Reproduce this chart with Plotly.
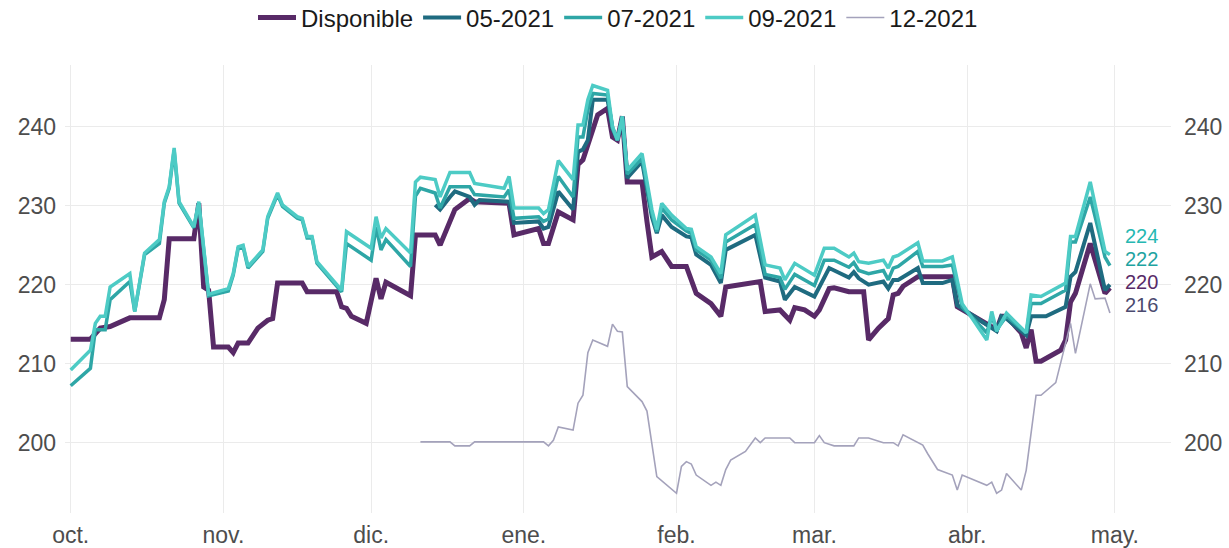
import pandas as pd
import plotly.graph_objects as go

BASE = pd.Timestamp("2020-10-01")  # day 0 of the day-offset lists

series_names = ["Disponible", "05-2021", "07-2021", "09-2021", "12-2021"]

disp_day = [0, 4, 6, 8, 12, 18, 19, 20, 25, 26, 27, 28, 29, 32, 33, 34, 36, 38, 40, 41,
            42, 47, 48, 54, 55, 56, 57, 60, 62, 63, 64, 69, 70, 74, 75, 77, 78, 81, 82, 89,
            90, 95, 96, 97, 99, 102, 103, 104, 107, 109, 110, 111, 112, 113, 116, 117, 118, 120, 122, 125,
            127, 130, 132, 133, 140, 141, 144, 146, 147, 149, 151, 152, 154, 155, 158, 161, 162, 164, 166, 167,
            168, 169, 172, 177, 179, 180, 186, 188, 189, 190, 193, 194, 195, 196, 197, 201, 202, 203, 204, 207,
            210, 211]
disp_val = [213.1, 213.1, 214.5, 214.7, 215.8, 215.8, 218.1, 225.8, 225.8, 230.3, 219.7, 219.3, 212.1, 212.1, 211.4, 212.6, 212.6, 214.5, 215.5, 215.7,
            220.2, 220.2, 219.1, 219.1, 217.2, 217.0, 216.0, 215.1, 220.8, 218.2, 220.3, 218.6, 226.3, 226.3, 225.0, 227.8, 229.5, 230.9, 230.5, 230.3,
            226.3, 227.1, 225.2, 225.2, 229.2, 228.2, 235.2, 235.8, 241.5, 242.3, 238.7, 238.3, 241.3, 233.0, 233.0, 228.0, 223.5, 224.2, 222.3, 222.3,
            218.9, 217.6, 216.0, 219.7, 220.4, 216.6, 216.8, 215.5, 217.1, 216.8, 216.0, 216.8, 219.5, 219.6, 219.1, 219.1, 213.0, 214.5, 215.7, 218.7,
            218.9, 219.8, 221.0, 221.0, 221.0, 217.2, 215.1, 214.3, 216.0, 216.0, 213.9, 212.0, 214.3, 210.3, 210.3, 211.7, 213.0, 217.8, 218.9, 225.2,
            218.9, 219.6]

m05_day = [74, 75, 77, 78, 81, 82, 83, 89, 90, 95, 96, 97, 99, 102, 103, 104, 105, 106, 109, 110,
           111, 112, 113, 116, 118, 119, 120, 122, 125, 126, 127, 130, 132, 133, 139, 141, 144, 145, 147, 151,
           154, 158, 159, 160, 162, 165, 166, 167, 168, 172, 173, 177, 179, 180, 186, 188, 189, 190, 194, 195,
           198, 202, 203, 204, 207, 210, 211]
m05_val = [230.1, 229.5, 231.1, 231.8, 231.1, 230.1, 230.7, 230.5, 227.8, 228.0, 227.1, 227.3, 231.8, 229.5, 236.8, 237.1, 238.3, 243.4, 243.4, 239.8,
           238.3, 241.2, 233.5, 235.6, 228.6, 226.5, 228.8, 227.3, 226.1, 226.0, 223.8, 222.5, 220.2, 224.4, 226.3, 220.9, 220.4, 218.1, 219.7, 218.5,
           222.1, 220.9, 221.6, 220.8, 220.0, 220.4, 219.5, 220.6, 220.6, 222.1, 220.2, 220.2, 220.6, 217.4, 214.9, 214.1, 216.0, 215.7, 213.6, 216.0,
           216.0, 217.2, 221.0, 221.6, 227.8, 219.3, 220.0]

m0709_day = [0, 4, 5, 6, 7, 8, 12, 13, 15, 18, 19, 20, 21, 22, 25, 26, 28, 32, 33, 34,
             35, 36, 39, 40, 42, 43, 46, 47, 48, 49, 50, 55, 56, 61, 62, 63, 64, 69, 70, 71,
             74, 75, 77, 81, 82, 88, 89, 90, 95, 96, 97, 99, 102, 103, 104, 105, 106, 109, 110, 111,
             112, 113, 116, 118, 119, 120, 122, 125, 126, 127, 130, 132, 133, 139, 141, 144, 145, 147, 151, 153,
             155, 158, 159, 160, 162, 165, 166, 167, 168, 172, 173, 177, 179, 181, 186, 187, 188, 190, 194, 195,
             197, 202, 203, 204, 207, 210, 211]
m07_val = [207.2, 209.4, 214.3, 214.3, 214.3, 218.1, 220.4, 216.6, 223.8, 225.2, 230.3, 232.2, 237.0, 230.3, 227.2, 230.3, 218.6, 219.2, 221.2, 224.6,
           224.8, 222.1, 224.2, 228.4, 231.4, 229.9, 228.4, 228.2, 225.9, 225.9, 222.7, 219.1, 225.2, 223.1, 227.3, 224.4, 225.7, 222.3, 231.2, 232.2,
           231.6, 229.7, 232.4, 232.4, 231.4, 231.1, 232.0, 228.4, 228.6, 228.0, 228.3, 233.7, 231.1, 238.7, 238.7, 242.1, 244.2, 244.0, 239.8, 238.3,
           241.3, 234.0, 236.0, 229.0, 226.7, 229.7, 228.2, 226.8, 226.5, 224.4, 223.1, 220.8, 225.4, 227.6, 221.3, 220.9, 219.4, 221.3, 219.9, 223.1,
           223.1, 222.2, 222.8, 221.8, 221.4, 221.8, 220.6, 222.1, 222.3, 224.2, 222.3, 222.3, 222.5, 217.2, 213.9, 216.0, 214.3, 216.0, 213.9, 217.6,
           217.6, 219.3, 225.4, 225.4, 231.1, 223.5, 222.4]
m09_val = [209.2, 211.7, 215.1, 216.0, 216.0, 219.7, 221.4, 216.6, 224.0, 225.7, 230.5, 232.4, 237.3, 230.5, 227.3, 230.5, 218.8, 219.5, 221.4, 224.8,
           225.0, 222.3, 224.4, 228.6, 231.6, 230.1, 228.6, 228.4, 226.1, 226.1, 222.9, 219.3, 226.7, 224.6, 228.6, 225.9, 227.1, 224.0, 233.0, 233.6,
           233.3, 231.1, 234.2, 234.2, 232.8, 232.2, 233.7, 229.7, 229.7, 229.0, 229.5, 235.7, 233.3, 240.2, 240.2, 243.4, 245.2, 244.6, 240.0, 238.3,
           241.3, 234.5, 236.6, 229.5, 227.0, 230.3, 228.8, 227.1, 227.0, 224.8, 223.5, 221.4, 226.3, 228.8, 222.5, 222.1, 220.6, 222.7, 221.2, 224.6,
           224.6, 223.5, 224.0, 222.9, 222.7, 223.1, 222.1, 223.5, 223.7, 225.3, 223.0, 223.0, 223.5, 217.6, 213.0, 216.6, 214.1, 216.4, 213.9, 218.7,
           218.5, 220.2, 226.1, 226.1, 233.0, 224.2, 223.8]

m12_day = [71, 77, 78, 81, 82, 96, 97, 98, 99, 102, 103, 104, 105, 106, 109, 110, 111, 112, 113, 116,
           117, 119, 123, 124, 125, 126, 127, 130, 131, 132, 133, 134, 137, 139, 140, 141, 146, 147, 151, 152,
           153, 155, 159, 160, 162, 165, 167, 168, 169, 173, 174, 176, 179, 180, 181, 186, 187, 188, 189, 190,
           193, 194, 196, 197, 200, 203, 204, 207, 208, 210, 211]
m12_val = [200.1, 200.1, 199.6, 199.6, 200.1, 200.1, 199.6, 200.3, 202.0, 201.6, 205.0, 206.0, 211.4, 213.0, 212.2, 215.0, 214.1, 214.0, 207.1, 205.2,
           204.0, 195.7, 193.6, 197.0, 197.6, 197.3, 195.9, 194.6, 195.0, 194.6, 196.6, 197.8, 198.9, 200.6, 200.0, 200.6, 200.6, 200.0, 200.0, 200.9,
           200.0, 199.6, 199.6, 200.6, 200.6, 200.0, 200.0, 199.6, 201.0, 199.7, 198.6, 196.6, 195.9, 194.0, 195.9, 194.6, 195.0, 193.6, 194.0, 196.1,
           194.0, 196.5, 206.0, 206.0, 207.6, 215.1, 211.3, 220.1, 218.2, 218.3, 216.4]

month_ticks = ["2020-10-01", "2020-11-01", "2020-12-01", "2021-01-01",
               "2021-02-01", "2021-03-01", "2021-04-01", "2021-05-01"]
month_labels = ["oct.", "nov.", "dic.", "ene.", "feb.", "mar.", "abr.", "may."]
y_ticks = [200, 210, 220, 230, 240]

# end labels shown for these series
labelled = ["09-2021", "07-2021", "Disponible", "12-2021"]


def to_dates(days):
    return [BASE + pd.Timedelta(days=d) for d in days]


data = {
    "Disponible": (disp_day, disp_val),
    "05-2021": (m05_day, m05_val),
    "07-2021": (m0709_day, m07_val),
    "09-2021": (m0709_day, m09_val),
    "12-2021": (m12_day, m12_val),
}
line_color = {
    "Disponible": "#582a67",
    "05-2021": "#1f6b80",
    "07-2021": "#2ea6a6",
    "09-2021": "#4dcbc5",
    "12-2021": "#a4a2bb",
}
line_width = {"Disponible": 5, "05-2021": 4, "07-2021": 3.5, "09-2021": 3.5, "12-2021": 1.6}
label_color = {
    "09-2021": "#25b8b2",
    "07-2021": "#1ea3a1",
    "Disponible": "#582a67",
    "12-2021": "#4b4a6f",
}
# pixel nudges that keep the stacked end labels from colliding (repel-style)
label_shift = {"09-2021": 17, "07-2021": 10, "Disponible": 3, "12-2021": 11}

FONT = "Liberation Sans"
FS = 23

fig = go.Figure()
for name in series_names:
    days, vals = data[name]
    fig.add_trace(go.Scatter(
        x=to_dates(days), y=vals, mode="lines", name=name,
        line=dict(color=line_color[name], width=line_width[name]),
        yaxis="y2" if name == "12-2021" else "y",
    ))

for name in labelled:
    days, vals = data[name]
    v = round(vals[-1])
    fig.add_annotation(
        x=to_dates([days[-1]])[0], y=v, text=str(v), showarrow=False,
        xanchor="left", yanchor="middle", xshift=13, yshift=label_shift[name],
        font=dict(size=20, color=label_color[name], family=FONT),
    )

grid = "#ebebeb"
fig.update_layout(
    width=1229, height=548,
    margin=dict(l=65, r=58, t=65, b=35, autoexpand=False),
    plot_bgcolor="white", paper_bgcolor="white",
    font=dict(family=FONT, size=FS, color="#4d4d4d"),
    showlegend=True,
    legend=dict(orientation="h", x=0.5, xanchor="center", y=1.105, yanchor="middle",
                font=dict(size=FS + 1, color="#1a1a1a", family=FONT), itemwidth=38,
                traceorder="normal"),
    xaxis=dict(range=[BASE - pd.Timedelta(days=1.16), BASE + pd.Timedelta(days=223.4)],
               tickmode="array", tickvals=month_ticks, ticktext=month_labels,
               showgrid=True, gridcolor=grid, gridwidth=1, zeroline=False, showline=False,
               ticks="", ticklabelstandoff=6, automargin=False),
    yaxis=dict(range=[191.1, 247.8], tickmode="array", tickvals=y_ticks,
               showgrid=True, gridcolor=grid, gridwidth=1, zeroline=False, showline=False,
               ticks="", ticklabelstandoff=8, automargin=False),
    yaxis2=dict(overlaying="y", side="right", matches="y", tickmode="array", tickvals=y_ticks,
                showgrid=False, zeroline=False, showline=False, ticks="", ticklabelstandoff=12,
                automargin=False),
)

fig.write_html("out.html", config={"displayModeBar": False},
               post_script="document.body.style.margin='0';")
